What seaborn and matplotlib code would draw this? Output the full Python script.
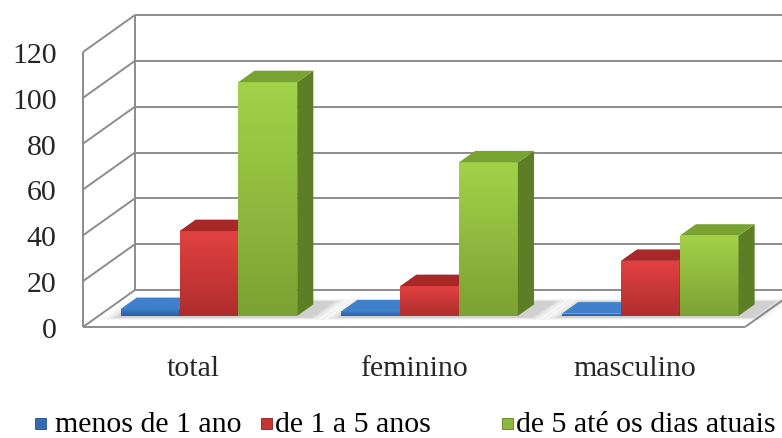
import numpy as np
import pandas as pd
import matplotlib
matplotlib.use("Agg")
import matplotlib.pyplot as plt
import matplotlib.colors as mcolors
from matplotlib.patches import Polygon, Rectangle
from matplotlib.lines import Line2D
from matplotlib.transforms import IdentityTransform, ScaledTranslation
import seaborn as sns

# ---- data ---------------------------------------------------------------
grupos = ["total", "feminino", "masculino"]
series = ["menos de 1 ano", "de 1 a 5 anos", "de 5 até os dias atuais"]
menos_1_ano = [3, 2, 1]
de_1_a_5 = [37, 13, 24]
de_5_atuais = [102, 67, 35]
y_ticks = [0, 20, 40, 60, 80, 100, 120]

df = pd.DataFrame({
    "grupo": grupos * 3,
    "serie": np.repeat(series, len(grupos)),
    "valor": menos_1_ano + de_1_a_5 + de_5_atuais,
})

# ---- styling ------------------------------------------------------------
sns.set_style("white")
plt.rcParams["font.family"] = "serif"
plt.rcParams["font.serif"] = ["Liberation Serif", "Times New Roman",
                              "Nimbus Roman", "DejaVu Serif"]
FONT = dict(family="serif", size=21.5)

front_col = {series[0]: "#2f6cb3", series[1]: "#c73434", series[2]: "#8db83b"}
top_col = {series[0]: "#3f7fcc", series[1]: "#a82727", series[2]: "#78a332"}
side_col = {series[0]: "#214f8a", series[1]: "#8a1f1f", series[2]: "#5c7e25"}
grid_col = "#8c8c8c"

W, H = 782, 439
fig = plt.figure(figsize=(W / 100, H / 100), dpi=100)
fig.patch.set_facecolor("white")
ax = fig.add_axes([83 / W, (H - 328) / H, (745 - 83) / W, (328 - 53) / H])
ax.patch.set_alpha(0)

sns.barplot(data=df, x="grupo", y="valor", hue="serie", hue_order=series,
            palette=front_col, saturation=1, width=0.8, ax=ax, legend=False,
            errorbar=None)

ax.set_xlim(-0.5, 2.5)
ax.set_ylim(0, 120)
ax.set_xlabel("")
ax.set_ylabel("")
for s in ax.spines.values():
    s.set_visible(False)
ax.set_yticks(y_ticks)
ax.tick_params(axis="y", length=0, pad=19)
ax.tick_params(axis="x", length=0, pad=20.5)
for lab in ax.get_xticklabels() + ax.get_yticklabels():
    lab.set_fontfamily("serif")
    lab.set_fontsize(21.5)

# ---- perspective helpers -------------------------------------------------
WALL_DX, WALL_DY = 52.0, 37.0      # depth of the chart box, pixels
BAR_F0 = 0.30                      # depth of bar fronts (fraction of box)
BAR_FD = 0.31                      # depth of each bar (fraction of box)


def pt(x, v, f=0.0):
    p = ax.transData.transform((x, v))
    return np.array([p[0] + f * WALL_DX, p[1] + f * WALL_DY])


def seg(p, q, z=-2, lw=1.4, col=grid_col):
    fig.add_artist(Line2D([p[0], q[0]], [p[1], q[1]], color=col, lw=lw,
                          transform=IdentityTransform(), zorder=z,
                          solid_capstyle="butt"))


# walls and floor
x0, x1 = -0.5, 2.5
for v in y_ticks:
    seg(pt(x0, v), pt(x0, v, 1))              # left wall rungs
    seg(pt(x0, v, 1), pt(x1, v, 1))           # back wall gridlines
seg(pt(x0, 0), pt(x0, 120))                   # left front edge
seg(pt(x0, 0, 1), pt(x0, 120, 1))             # left back edge
seg(pt(x0, 0), pt(x1, 0))                     # floor front edge
seg(pt(x1, 0), pt(x1, 0, 1))                  # floor right edge

# ---- bars: shift to their depth and add top / side faces -----------------
bar_shift = ScaledTranslation(BAR_F0 * WALL_DX / 100, BAR_F0 * WALL_DY / 100,
                              fig.dpi_scale_trans)
# seaborn adds the bars hue by hue, one per group
ser_of = {id(p): series[k // len(grupos)] for k, p in enumerate(ax.patches)}
bars = sorted([p for p in ax.patches if isinstance(p, Rectangle)],
              key=lambda p: p.get_x())

# soft floor shadows under each group
for gi in range(len(grupos)):
    gl, gr = gi - 0.4, gi + 0.4
    for grow, alpha in [(0.07, 0.06), (0.045, 0.09), (0.025, 0.12), (0.01, 0.14)]:
        f_a, f_b = BAR_F0 - 0.04 - grow, BAR_F0 + BAR_FD + 0.08 + grow
        poly = [pt(gl - grow, 0, f_a), pt(gr + 0.07 + grow, 0, f_a),
                pt(gr + 0.07 + grow, 0, f_b), pt(gl - grow, 0, f_b)]
        ax.add_patch(Polygon(poly, closed=True, facecolor="#808080",
                             edgecolor="none", alpha=alpha,
                             transform=IdentityTransform(), clip_on=False,
                             zorder=1))

for i, p in enumerate(bars):
    s = ser_of[id(p)]
    bx, bw, bh = p.get_x(), p.get_width(), p.get_height()
    z = 3 + i * 0.1
    p.set_transform(ax.transData + bar_shift)
    p.set_clip_on(False)
    p.set_edgecolor("none")
    p.set_zorder(z)

    # vertical shading on the front face
    c = np.array(mcolors.to_rgb(front_col[s]))
    light = np.clip(c * 1.10 + 0.03, 0, 1)
    dark = c * 0.88
    t = np.linspace(0, 1, 64)[:, None]
    grad = np.concatenate([light * (1 - t) + dark * t, np.ones((64, 1))], axis=1)
    im = ax.imshow(grad[:, None, :], extent=(bx, bx + bw, 0, bh),
                   aspect="auto", origin="upper",
                   transform=ax.transData + bar_shift, zorder=z + 0.01,
                   interpolation="bilinear")
    im.set_clip_path(p)

    fa, fb = BAR_F0, BAR_F0 + BAR_FD
    top = [pt(bx, bh, fa), pt(bx + bw, bh, fa), pt(bx + bw, bh, fb), pt(bx, bh, fb)]
    side = [pt(bx + bw, 0, fa), pt(bx + bw, bh, fa), pt(bx + bw, bh, fb),
            pt(bx + bw, 0, fb)]
    ax.add_patch(Polygon(side, closed=True, facecolor=side_col[s],
                         edgecolor="none", transform=IdentityTransform(),
                         clip_on=False, zorder=z + 0.02))
    ax.add_patch(Polygon(top, closed=True, facecolor=top_col[s],
                         edgecolor="none", transform=IdentityTransform(),
                         clip_on=False, zorder=z + 0.03))

ax.set_xlim(-0.5, 2.5)
ax.set_ylim(0, 120)

# ---- legend ---------------------------------------------------------------
legend_x = [35, 261, 502]       # marker left edges, pixels
legend_tx = [55, 275, 516]      # label left edges, pixels
for s, mx, tx in zip(series, legend_x, legend_tx):
    fig.add_artist(Rectangle((mx / W, 9 / H), 11 / W, 11 / H,
                             transform=fig.transFigure,
                             facecolor=front_col[s], edgecolor=side_col[s],
                             lw=0.6))
    fig.text(tx / W, 7 / H, s, va="baseline", ha="left",
             color="black", **FONT)

fig.savefig("out.png", dpi=100, facecolor="white")
